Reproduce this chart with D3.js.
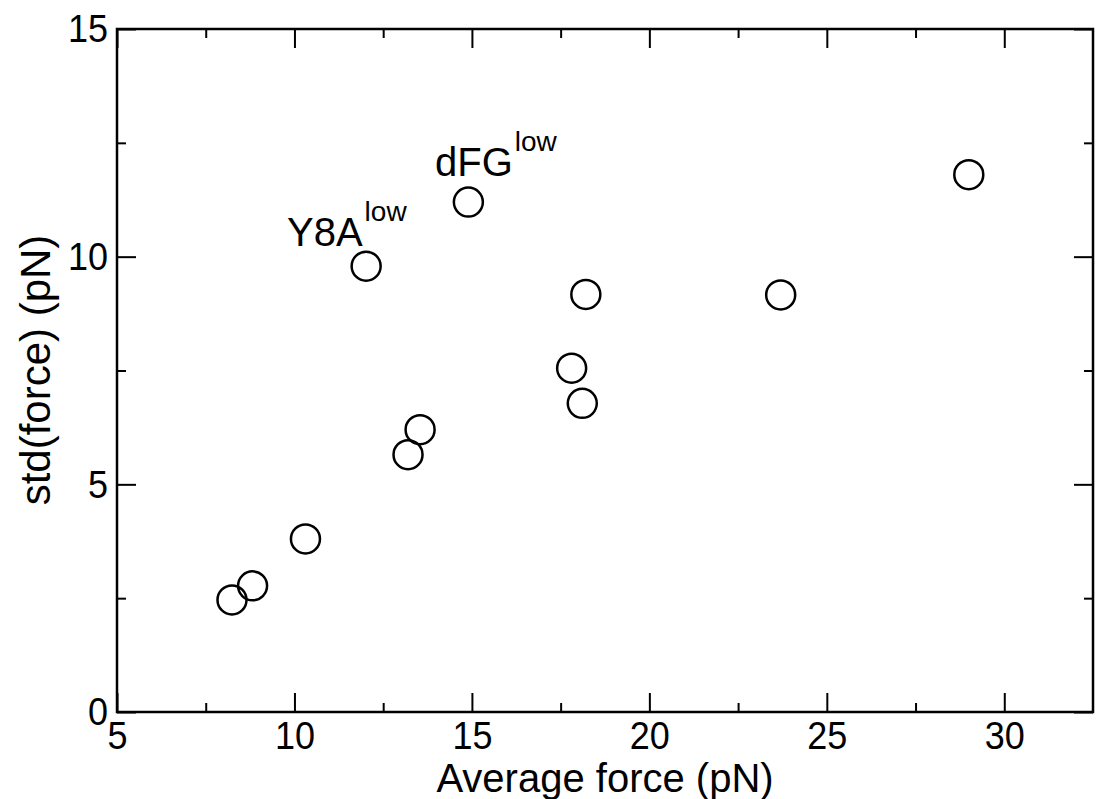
<!DOCTYPE html>
<html>
<head>
<meta charset="utf-8">
<script src="https://cdn.jsdelivr.net/npm/d3@7"></script>
<style>
  body { margin: 0; background: #fff; }
  text { font-family: "Liberation Sans", Arial, Helvetica, sans-serif; fill: #000; }
</style>
</head>
<body>
<svg id="chart"></svg>
<script>
// Data
const avgForce = [8.24, 8.82, 10.31, 12.02, 14.90, 13.20, 13.54, 18.21, 23.70, 17.81, 18.11, 29.0];
const stdForce = [2.46, 2.77, 3.80, 9.79, 11.20, 5.65, 6.20, 9.17, 9.16, 7.55, 6.78, 11.80];

const xTicks = [5, 10, 15, 20, 25, 30];
const xMinor = [7.5, 12.5, 17.5, 22.5, 27.5];
const yTicks = [0, 5, 10, 15];
const yMinor = [2.5, 7.5, 12.5];

const labelNames = ["Y8A", "dFG"];
const labelSups = ["low", "low"];
const labelX = [9.79, 13.96];
const labelY = [10.23, 11.78];

const W = 1099, H = 799;
const margin = { top: 29, right: 6, bottom: 87, left: 117 };
const width = W - margin.left - margin.right;
const height = H - margin.top - margin.bottom;

const svg = d3.select("#chart")
    .attr("width", W)
    .attr("height", H);

const g = svg.append("g")
    .attr("transform", "translate(" + margin.left + "," + margin.top + ")");

const x = d3.scaleLinear().domain([5, 32.5]).range([0, width]);
const y = d3.scaleLinear().domain([0, 15]).range([height, 0]);

// ticks pointing inward on all four sides
function tickAxis(axis, values, size) {
    return axis.tickValues(values).tickSize(-size).tickFormat("");
}
const axes = [
    [d3.axisBottom(x), xTicks, 19, "translate(0," + height + ")"],
    [d3.axisBottom(x), xMinor, 9, "translate(0," + height + ")"],
    [d3.axisTop(x), xTicks, 19, null],
    [d3.axisTop(x), xMinor, 9, null],
    [d3.axisLeft(y), yTicks, 19, null],
    [d3.axisLeft(y), yMinor, 9, null],
    [d3.axisRight(y), yTicks, 19, "translate(" + width + ",0)"],
    [d3.axisRight(y), yMinor, 9, "translate(" + width + ",0)"]
];
axes.forEach(([ax, vals, size, tr]) => {
    const a = g.append("g").call(tickAxis(ax, vals, size));
    if (tr) a.attr("transform", tr);
    a.select(".domain").remove();
    a.selectAll("line").attr("stroke", "#000").attr("stroke-width", 2);
});

// tick labels (glyphs a bit taller than wide, like the original)
const xLab = g.append("g")
    .attr("transform", "translate(0," + height + ")")
    .call(d3.axisBottom(x).tickValues(xTicks).tickSize(0).tickPadding(8));
xLab.select(".domain").remove();
xLab.selectAll("text")
    .style("font-size", "36px")
    .attr("font-family", null)
    .attr("transform", "scale(1,1.1)");

const yLab = g.append("g")
    .call(d3.axisLeft(y).tickValues(yTicks).tickSize(0).tickPadding(9));
yLab.select(".domain").remove();
yLab.selectAll("text")
    .style("font-size", "36px")
    .attr("font-family", null)
    .attr("transform", "scale(1,1.1)");

// frame
g.append("rect")
    .attr("width", width)
    .attr("height", height)
    .attr("fill", "none")
    .attr("stroke", "#000")
    .attr("stroke-width", 2.5);

// points
g.selectAll(".dot")
    .data(avgForce)
    .enter()
    .append("circle")
    .attr("class", "dot")
    .attr("cx", d => x(d))
    .attr("cy", (d, i) => y(stdForce[i]))
    .attr("r", 14.5)
    .attr("fill", "none")
    .attr("stroke", "#000")
    .attr("stroke-width", 2.5);

// annotations
labelNames.forEach((name, i) => {
    const t = g.append("text")
        .attr("x", x(labelX[i]))
        .attr("y", y(labelY[i]))
        .style("font-size", "40px");
    t.append("tspan").text(name);
    t.append("tspan")
        .attr("dy", -25)
        .attr("dx", 2)
        .style("font-size", "28px")
        .text(labelSups[i]);
});

// axis titles
svg.append("text")
    .attr("x", margin.left + x(18.75))
    .attr("y", 792)
    .attr("text-anchor", "middle")
    .style("font-size", "40px")
    .text("Average force (pN)");

svg.append("text")
    .attr("transform", "translate(50,370) rotate(-90)")
    .attr("text-anchor", "middle")
    .style("font-size", "42px")
    .text("std(force) (pN)");
</script>
</body>
</html>
